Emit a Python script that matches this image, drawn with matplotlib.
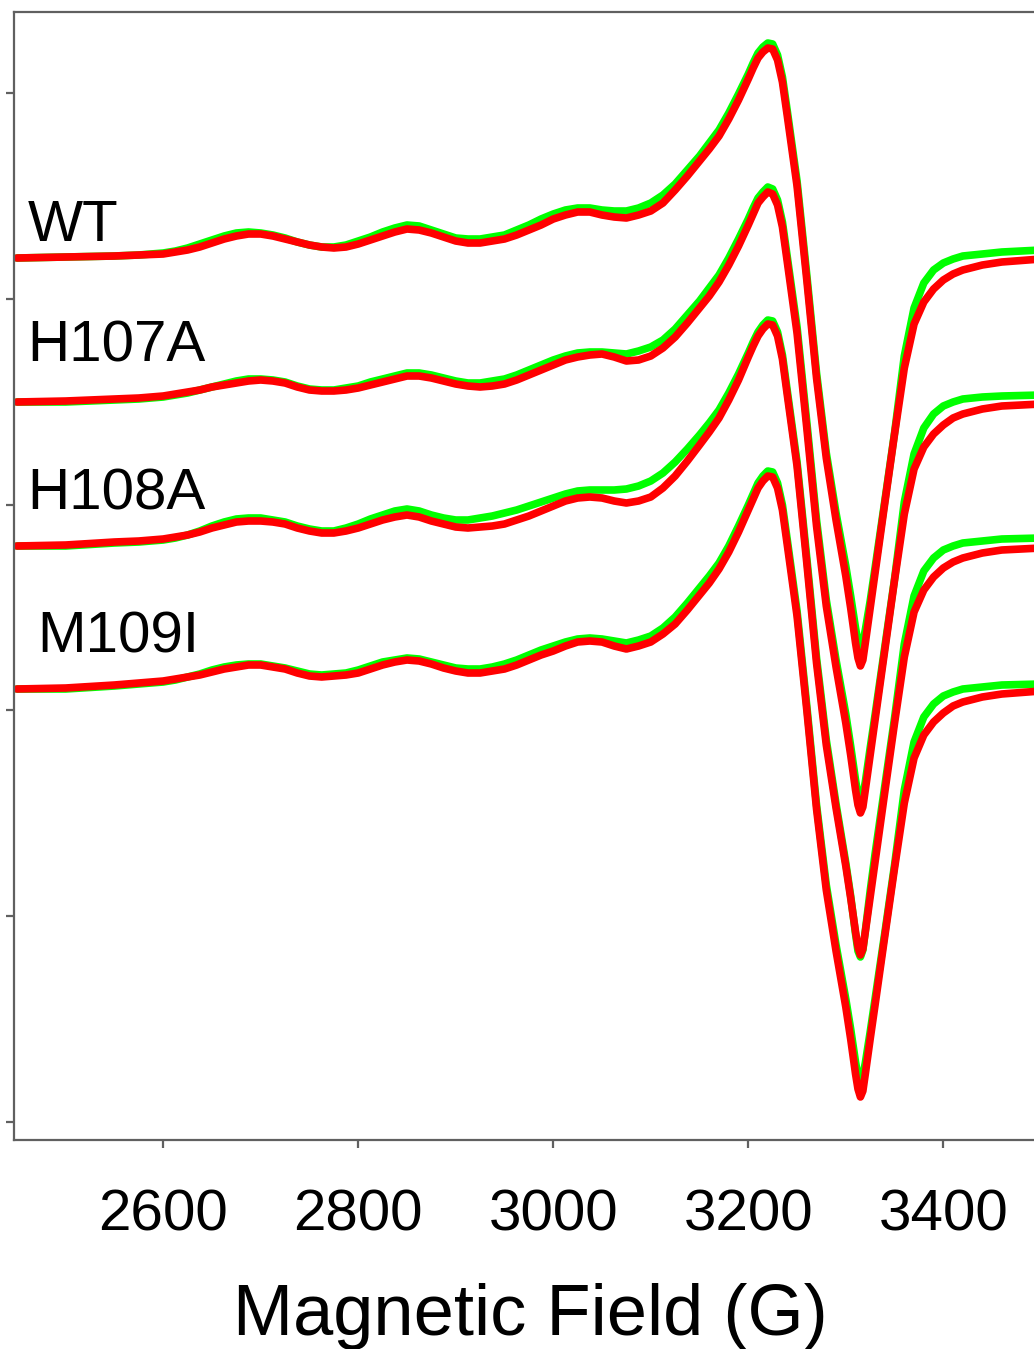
import numpy as np
import matplotlib
matplotlib.use("Agg")
import matplotlib.pyplot as plt

plt.rcParams['font.family'] = ['Liberation Sans', 'DejaVu Sans']

# magnetic field grid (G)
field = [2450, 2500, 2550, 2575,
         2600, 2612.5, 2625, 2637.5, 2650, 2662.5, 2675, 2687.5, 2700, 2712.5, 2725, 2737.5,
         2750, 2762.5, 2775, 2787.5, 2800, 2812.5, 2825, 2837.5, 2850, 2862.5, 2875, 2887.5,
         2900, 2912.5, 2925, 2937.5, 2950, 2962.5, 2975, 2987.5, 3000, 3012.5, 3025, 3037.5,
         3050, 3062.5, 3075, 3087.5, 3100, 3112.5, 3125, 3137.5, 3150,
         3160, 3170, 3180, 3190,
         3200, 3205, 3210, 3215, 3220, 3225, 3230, 3235, 3240,
         3250, 3260, 3270, 3280, 3290, 3300,
         3305, 3310, 3312.5, 3315, 3317.5, 3320, 3325,
         3330, 3340, 3350, 3360, 3370, 3380, 3390, 3400, 3410, 3420,
         3440, 3460, 3500]

# derivative EPR signal (a.u.), relative to each trace baseline
wt_green = [0, 1, 2, 3,
            5, 7, 10, 14, 18, 22, 25, 26, 25, 23, 20, 16,
            13, 11, 11, 13, 17, 21, 26, 30, 33, 32, 28, 24,
            20, 19, 19, 21, 23, 28, 33, 39, 44, 48, 50, 50,
            48, 47, 47, 50, 55, 63, 74, 88, 102,
            115, 128, 145, 164,
            184, 195, 205, 211, 215, 214, 203, 181, 147,
            77, -17, -115, -195, -255, -308,
            -338, -370, -384, -389, -384, -372, -343,
            -310, -243, -175, -98, -50, -25, -12, -5, -1, 2,
            4, 6, 8]
wt_red = [0, 1, 2, 3,
          4, 6, 8, 11, 15, 19, 22, 24, 24, 22, 19, 16,
          13, 11, 10, 11, 14, 18, 22, 26, 29, 28, 25, 21,
          17, 15, 15, 17, 19, 23, 28, 33, 39, 43, 46, 46,
          43, 41, 40, 43, 47, 55, 68, 82, 97,
          109, 122, 139, 158,
          179, 190, 200, 206, 210, 209, 198, 176, 142,
          72, -22, -120, -200, -262, -318,
          -350, -385, -400, -408, -402, -385, -350,
          -315, -245, -176, -110, -66, -44, -31, -22, -16, -12,
          -7, -4, -1]

h107a_green = [0, 0, 2, 3,
               5, 7, 9, 12, 15, 18, 21, 23, 23, 22, 20, 16,
               13, 12, 12, 14, 16, 20, 23, 26, 29, 29, 27, 24,
               21, 19, 19, 21, 23, 27, 32, 37, 42, 46, 49, 50,
               50, 49, 48, 51, 55, 62, 73, 87, 101,
               114, 127, 144, 163,
               183, 194, 204, 210, 215, 213, 202, 180, 145,
               75, -20, -118, -198, -258, -312,
               -344, -378, -393, -398, -393, -380, -346,
               -313, -245, -177, -100, -52, -26, -12, -4, 0, 3,
               5, 6, 7]
h107a_red = [0, 1, 3, 4,
             6, 8, 10, 12, 15, 17, 19, 21, 22, 21, 19, 15,
             12, 11, 11, 12, 14, 17, 20, 23, 26, 26, 24, 21,
             18, 16, 15, 16, 18, 22, 27, 32, 37, 42, 45, 47,
             48, 45, 41, 42, 46, 54, 65, 79, 94,
             106, 120, 137, 156,
             177, 188, 199, 205, 210, 208, 197, 175, 140,
             69, -26, -124, -204, -265, -321,
             -353, -388, -403, -411, -405, -388, -353,
             -318, -248, -178, -112, -67, -45, -32, -23, -16, -12,
             -7, -4, -2]

h108a_green = [0, 0, 3, 4,
               6, 8, 11, 15, 20, 24, 27, 28, 28, 26, 24, 20,
               17, 15, 15, 18, 22, 27, 31, 35, 37, 35, 31, 28,
               26, 26, 28, 30, 33, 36, 40, 44, 48, 52, 55, 56,
               56, 56, 57, 60, 65, 73, 84, 97, 111,
               123, 136, 153, 172,
               193, 204, 214, 221, 226, 225, 214, 191, 155,
               84, -12, -112, -194, -258, -317,
               -350, -388, -405, -411, -404, -385, -345,
               -308, -240, -172, -98, -50, -25, -12, -4, 0, 3,
               5, 7, 8]
h108a_red = [0, 1, 4, 5,
             7, 9, 11, 14, 18, 21, 24, 25, 25, 24, 22, 18,
             15, 13, 13, 15, 18, 22, 26, 29, 31, 29, 25, 22,
             19, 18, 19, 20, 22, 26, 30, 35, 40, 45, 48, 49,
             48, 45, 43, 45, 49, 58, 70, 85, 101,
             114, 128, 146, 166,
             189, 200, 210, 217, 222, 221, 210, 187, 151,
             80, -17, -117, -199, -262, -320,
             -352, -386, -401, -409, -403, -386, -351,
             -316, -246, -177, -111, -66, -44, -31, -22, -16, -12,
             -7, -4, -2]

m109i_green = [0, 0, 3, 5,
               7, 9, 12, 15, 19, 22, 24, 25, 25, 23, 21, 18,
               15, 14, 15, 16, 19, 23, 27, 29, 31, 30, 27, 24,
               21, 20, 20, 22, 25, 29, 34, 39, 43, 47, 50, 51,
               50, 48, 46, 49, 53, 61, 72, 86, 101,
               113, 126, 143, 163,
               184, 195, 206, 213, 218, 217, 206, 184, 149,
               78, -17, -116, -196, -256, -310,
               -340, -373, -387, -392, -387, -374, -343,
               -310, -244, -176, -101, -53, -28, -15, -7, -3, 0,
               2, 4, 5]
m109i_red = [0, 1, 4, 6,
             8, 10, 12, 14, 17, 20, 22, 24, 24, 22, 20, 16,
             13, 12, 13, 14, 16, 20, 24, 27, 29, 28, 25, 21,
             18, 16, 16, 18, 20, 24, 29, 34, 38, 43, 47, 48,
             47, 43, 40, 43, 47, 55, 65, 79, 94,
             106, 120, 137, 157,
             179, 190, 201, 208, 213, 212, 201, 179, 144,
             73, -21, -120, -201, -262, -318,
             -350, -385, -400, -408, -402, -385, -350,
             -316, -247, -179, -114, -69, -46, -33, -24, -17, -13,
             -8, -5, -2]

names = ["WT", "H107A", "H108A", "M109I"]
offsets = [864, 720, 576, 433]
greens = [wt_green, h107a_green, h108a_green, m109i_green]
reds = [wt_red, h107a_red, h108a_red, m109i_red]

fig = plt.figure(figsize=(10.34, 13.49), dpi=100)
ax = fig.add_axes([0.01354, 0.15493, 0.98646, 0.83617])

x = np.array(field)
for g, r, off in zip(greens, reds, offsets):
    ax.plot(x, np.array(g) + off, color="#00ff00", lw=5.5,
            solid_joinstyle="round", solid_capstyle="round")
    ax.plot(x, np.array(r) + off, color="#ff0000", lw=5.5,
            solid_joinstyle="round", solid_capstyle="round")

# sample labels (x in G, y baseline in a.u.)
label_pos = [(2461, 881), (2461, 761), (2461, 613), (2471, 470)]
for name, (lx, ly) in zip(names, label_pos):
    ax.text(lx, ly, name, fontsize=42, ha="left", va="baseline")

ax.set_xlim(2447, 3493)
ax.set_ylim(-18, 1110)
ax.set_xticks([2600, 2800, 3000, 3200, 3400])
ax.set_yticks(np.arange(6) * 205.8)
ax.set_yticklabels([])
ax.spines["right"].set_visible(False)
for s in ["left", "bottom", "top"]:
    ax.spines[s].set_color("#606060")
    ax.spines[s].set_linewidth(1.6)
ax.tick_params(axis="both", direction="out", length=6, width=1.6, color="#606060")
ax.tick_params(axis="x", labelsize=42, pad=29)

fig.text(0.5126, 0.01038, "Magnetic Field (G)", fontsize=52, ha="center", va="baseline")

fig.savefig("out.png", dpi=100)
